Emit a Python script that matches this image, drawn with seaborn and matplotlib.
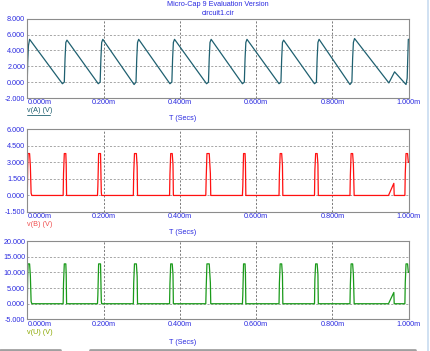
import seaborn as sns
import pandas as pd
import matplotlib.pyplot as plt
from matplotlib.lines import Line2D

sns.set_style("white")
plt.rcParams["font.family"] = ["Liberation Sans", "DejaVu Sans"]
plt.rcParams["font.size"] = 5.2

# v(A): sawtooth, time in ms
t_a = [0.000, 0.001, 0.003, 0.006,
       0.092, 0.097, 0.099, 0.101, 0.104,
       0.186, 0.191, 0.193, 0.195, 0.198,
       0.280, 0.285, 0.287, 0.289, 0.292,
       0.374, 0.379, 0.381, 0.383, 0.386,
       0.470, 0.475, 0.477, 0.479, 0.482,
       0.564, 0.569, 0.571, 0.573, 0.576,
       0.660, 0.665, 0.667, 0.669, 0.672,
       0.753, 0.758, 0.760, 0.762, 0.765,
       0.846, 0.851, 0.853, 0.855, 0.858,
       0.948, 0.963, 0.993, 0.996, 0.999, 1.000]
v_a = [0.3, 2.5, 4.6, 5.4,
       -0.2, 0.0, 3.0, 5.0, 5.3,
       -0.2, 0.0, 3.0, 5.0, 5.4,
       -0.3, 0.0, 3.0, 5.0, 5.4,
       -0.2, 0.0, 3.0, 5.0, 5.4,
       -0.2, 0.0, 3.0, 5.0, 5.4,
       -0.2, 0.0, 3.0, 5.0, 5.4,
       -0.2, 0.0, 3.0, 5.0, 5.3,
       -0.2, 0.0, 3.0, 5.0, 5.4,
       -0.3, 0.0, 3.0, 5.0, 5.5,
       -0.1, 1.3, -0.3, 0.5, 5.4, 5.4]

# v(B) and v(U): pulses, same time points
t_p = [0.000, 0.001, 0.002, 0.006, 0.008, 0.010, 0.012,
       0.094, 0.095, 0.097, 0.101, 0.102, 0.103,
       0.184, 0.185, 0.187, 0.192, 0.194, 0.195,
       0.278, 0.279, 0.281, 0.286, 0.288, 0.289,
       0.373, 0.374, 0.376, 0.380, 0.382, 0.383,
       0.468, 0.469, 0.471, 0.477, 0.480, 0.481,
       0.564, 0.565, 0.567, 0.571, 0.572, 0.573,
       0.660, 0.661, 0.663, 0.667, 0.669, 0.670,
       0.753, 0.754, 0.756, 0.760, 0.762, 0.763,
       0.846, 0.847, 0.849, 0.853, 0.855, 0.857,
       0.947, 0.961, 0.962,
       0.990, 0.991, 0.993, 0.997, 0.999, 1.000]
v_b = [0.0, 2.5, 3.8, 3.8, 2.7, 0.2, 0.0,
       0.0, 2.0, 3.8, 3.8, 2.8, 0.0,
       0.0, 0.8, 3.8, 3.8, 0.3, 0.0,
       0.0, 2.0, 3.8, 3.8, 2.6, 0.0,
       0.0, 1.9, 3.8, 3.8, 2.8, 0.0,
       0.0, 1.5, 3.8, 3.8, 2.0, 0.0,
       0.0, 0.8, 3.8, 3.8, 2.8, 0.0,
       0.0, 2.0, 3.8, 3.8, 2.7, 0.0,
       0.0, 2.3, 3.8, 3.8, 2.8, 0.0,
       0.0, 1.8, 3.8, 3.8, 2.8, 0.0,
       0.0, 1.1, 0.0,
       0.0, 2.0, 3.8, 3.8, 3.0, 3.0]
v_u = [0.0, 8.4, 12.7, 12.7, 9.0, 0.7, 0.0,
       0.0, 6.7, 12.7, 12.7, 9.3, 0.0,
       0.0, 2.7, 12.7, 12.7, 1.0, 0.0,
       0.0, 6.7, 12.7, 12.7, 8.7, 0.0,
       0.0, 6.3, 12.7, 12.7, 9.3, 0.0,
       0.0, 5.0, 12.7, 12.7, 6.7, 0.0,
       0.0, 2.7, 12.7, 12.7, 9.3, 0.0,
       0.0, 6.7, 12.7, 12.7, 9.0, 0.0,
       0.0, 7.7, 12.7, 12.7, 9.3, 0.0,
       0.0, 6.0, 12.7, 12.7, 9.3, 0.0,
       0.0, 3.6, 0.0,
       0.0, 6.7, 12.7, 12.7, 10.0, 10.0]

x_ticks = [0.0, 0.2, 0.4, 0.6, 0.8, 1.0]
x_labels = ["0.000m", "0.200m", "0.400m", "0.600m", "0.800m", "1.000m"]
panels = [
    dict(t=t_a, v=v_a, color="#1f6070", name="v(A) (V)", lab_color="#1f6070",
         yt=[-2, 0, 2, 4, 6, 8], fmt="{:.3f}"),
    dict(t=t_p, v=v_b, color="#ff1010", name="v(B) (V)", lab_color="#f05050",
         yt=[-1.5, 0, 1.5, 3, 4.5, 6], fmt="{:.3f}"),
    dict(t=t_p, v=v_u, color="#1a9a1a", name="v(U) (V)", lab_color="#8aa800",
         yt=[-5, 0, 5, 10, 15, 20], fmt="{:.3f}"),
]

W, H = 431, 351
fig = plt.figure(figsize=(W / 100, H / 100), dpi=100)
fig.patch.set_facecolor("white")

# axes boxes in pixels: (top, bottom)
boxes = [(18.7, 98), (129.3, 212), (241, 319.4)]
left, right = 27.3, 408.7
label_y = [(111, 118.5), (224, 232.5), (333, 342)]
blue = "#2a2ae0"

for p, (top, bot), (ly, ty) in zip(panels, boxes, label_y):
    ax = fig.add_axes([left / W, 1 - bot / H, (right - left) / W, (bot - top) / H])
    df = pd.DataFrame({"t": p["t"], "v": p["v"]})
    sns.lineplot(data=df, x="t", y="v", ax=ax, color=p["color"], lw=0.9,
                 estimator=None, sort=False)
    ax.set_xlim(0, 1)
    ax.set_ylim(p["yt"][0], p["yt"][-1])
    ax.set_xticks(x_ticks)
    ax.set_xticklabels(x_labels, color=blue)
    ax.set_yticks(p["yt"])
    ax.set_yticklabels([p["fmt"].format(y) for y in p["yt"]], color=blue)
    ax.get_xticklabels()[0].set_horizontalalignment("left")
    ax.tick_params(axis="x", length=0, pad=0.8)
    ax.tick_params(axis="y", length=0, pad=1.5)
    ax.set_xlabel("")
    ax.set_ylabel("")
    for s in ax.spines.values():
        s.set_color("#8c8c8c")
        s.set_linewidth(0.8)
    ax.grid(True, axis="y", color="#999999", linestyle=(0, (2.5, 2)), linewidth=0.6)
    ax.grid(True, axis="x", color="#666666", linestyle=(0, (2.5, 2)), linewidth=0.6)
    fig.text(left / W, 1 - ly / H, p["name"], color=p["lab_color"],
             ha="left", va="center")
    fig.text(183 / W, 1 - ty / H, "T (Secs)", color=blue, ha="center", va="center")

# underline for the active trace label
fig.add_artist(Line2D([left / W, 50 / W], [1 - 114.5 / H, 1 - 114.5 / H],
                      color="#1f6070", lw=0.6))

fig.text(218 / W, 1 - 5 / H, "Micro-Cap 9 Evaluation Version", color=blue,
         ha="center", va="center")
fig.text(218 / W, 1 - 13.5 / H, "circuit1.cir", color=blue, ha="center", va="center")

# window edge bits
fig.add_artist(Line2D([428 / W, 428 / W], [0, 1], color="#c8dcf0", lw=1.2))
fig.add_artist(Line2D([0, 60 / W], [1.5 / H, 1.5 / H], color="#a0a0a0", lw=2))
fig.add_artist(Line2D([90 / W, 415 / W], [1.5 / H, 1.5 / H], color="#a0a0a0", lw=2))

fig.savefig("out.png", dpi=100)
